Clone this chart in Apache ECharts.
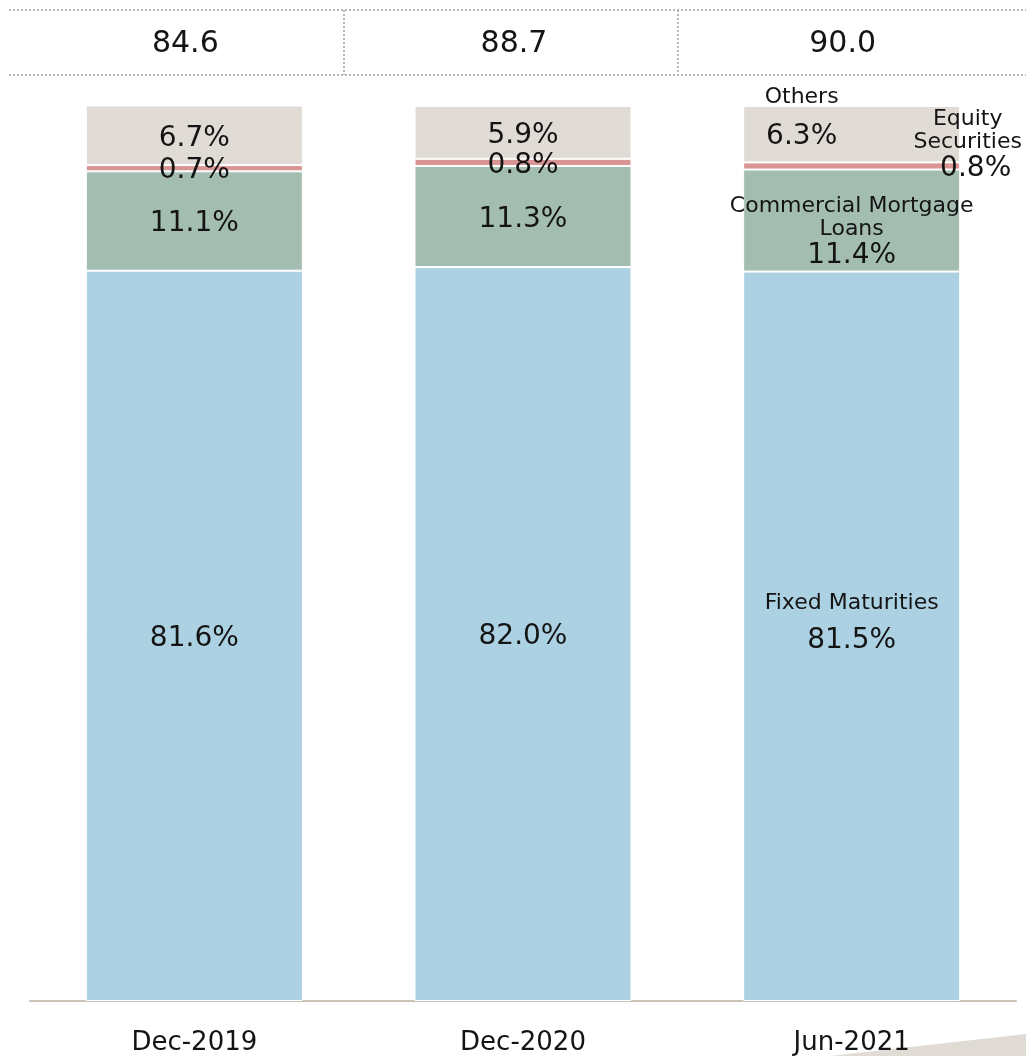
<!DOCTYPE html>
<html>
<head>
<meta charset="utf-8">
<title>Invested Assets Mix</title>
<script src="https://cdn.jsdelivr.net/npm/echarts@6/dist/echarts.min.js"></script>
<style>
  html, body { margin: 0; padding: 0; background: #ffffff; }
  #chart { width: 1026px; height: 1056px; }
</style>
</head>
<body>
<div id="chart"></div>
<script>
// Periods and totals shown in the header row
const categories = ['Dec-2019', 'Dec-2020', 'Jun-2021'];
const totals = [84.6, 88.7, 90.0];

// Portfolio composition, % of total
const fixedMaturities = [81.6, 82.0, 81.5];
const commercialMortgageLoans = [11.1, 11.3, 11.4];
const equitySecurities = [0.7, 0.8, 0.8];
const others = [6.7, 5.9, 6.3];

const FONT = '"DejaVu Sans", Verdana, sans-serif';
const TEXT = '#141414';

const rich = {
  n: { fontSize: 22, lineHeight: 23, color: TEXT, fontFamily: FONT },
  v: { fontSize: 28, lineHeight: 30, color: TEXT, fontFamily: FONT },
  vs: { fontSize: 28, lineHeight: 30, color: TEXT, fontFamily: FONT, padding: [0, 0, 0, 16] },
  vo: { fontSize: 28, lineHeight: 56, color: TEXT, fontFamily: FONT },
  vf: { fontSize: 28, lineHeight: 52, color: TEXT, fontFamily: FONT }
};

const pct = v => v.toFixed(1) + '%';

// Builds the data items of one stacked layer; the last period also carries the layer name
function layer(values, lastText, lastOffset) {
  return values.map((v, i) => {
    if (i !== values.length - 1) return { value: v };
    return {
      value: v,
      label: { formatter: lastText(v), offset: lastOffset }
    };
  });
}

function stackSeries(name, values, color, lastText, lastOffset) {
  return {
    name: name,
    type: 'bar',
    stack: 'mix',
    barWidth: 217,
    data: layer(values, lastText, lastOffset),
    itemStyle: { color: color, borderColor: '#ffffff', borderWidth: 1 },
    label: {
      show: true,
      position: 'inside',
      offset: [0, 3],
      fontSize: 28,
      fontFamily: FONT,
      color: TEXT,
      formatter: p => pct(p.value),
      rich: rich
    }
  };
}

const chart = echarts.init(document.getElementById('chart'), null, { renderer: 'canvas' });

chart.setOption({
  animation: false,
  backgroundColor: '#ffffff',
  grid: { left: 30, right: 10, top: 106, bottom: 54, containLabel: false },
  xAxis: [
    {
      type: 'category',
      data: categories,
      position: 'bottom',
      axisLine: { show: true, lineStyle: { color: '#c9c3b8', width: 2 } },
      axisTick: { show: false },
      axisLabel: {
        margin: 29,
        fontSize: 26,
        lineHeight: 26,
        fontFamily: FONT,
        color: TEXT
      }
    },
    {
      type: 'category',
      data: categories,
      position: 'top',
      axisLine: { show: false },
      axisTick: { show: false },
      axisLabel: {
        margin: 47,
        fontSize: 30,
        lineHeight: 30,
        fontFamily: FONT,
        color: TEXT,
        padding: [0, 18, 0, 0],
        formatter: (val, idx) => totals[idx].toFixed(1)
      }
    }
  ],
  yAxis: {
    type: 'value',
    min: 0,
    max: 100,
    show: false,
    splitLine: { show: false }
  },
  series: [
    stackSeries('Fixed Maturities', fixedMaturities, '#abd1e3',
      v => '{n|Fixed Maturities}\n{vf|' + pct(v) + '}', [0, -7]),
    stackSeries('Commercial Mortgage Loans', commercialMortgageLoans, '#a3bdb1',
      v => '{n|Commercial Mortgage}\n{n|Loans}\n{v|' + pct(v) + '}', [0, 12]),
    stackSeries('Equity Securities', equitySecurities, '#d99594',
      v => '{n|Equity}\n{n|Securities}\n{vs|' + pct(v) + '}', [116, -20]),
    stackSeries('Others', others, '#e0dcd5',
      v => '{n|Others}\n{vo|' + pct(v) + '}', [-50, -9])
  ],
  graphic: [
    // header row rules
    { type: 'line', shape: { x1: 9, y1: 10, x2: 1026, y2: 10 },
      style: { stroke: '#a0a0a0', lineWidth: 1.5, lineDash: [2, 2] } },
    { type: 'line', shape: { x1: 9, y1: 75, x2: 1026, y2: 75 },
      style: { stroke: '#a0a0a0', lineWidth: 1.5, lineDash: [2, 2] } },
    { type: 'line', shape: { x1: 344, y1: 10, x2: 344, y2: 75 },
      style: { stroke: '#a0a0a0', lineWidth: 1.5, lineDash: [2, 2] } },
    { type: 'line', shape: { x1: 678, y1: 10, x2: 678, y2: 75 },
      style: { stroke: '#a0a0a0', lineWidth: 1.5, lineDash: [2, 2] } },
    // corner accent
    { type: 'polygon', shape: { points: [[830, 1056], [1026, 1034], [1026, 1056]] },
      style: { fill: '#e0dcd5' }, z: -1 }
  ]
});
</script>
</body>
</html>
